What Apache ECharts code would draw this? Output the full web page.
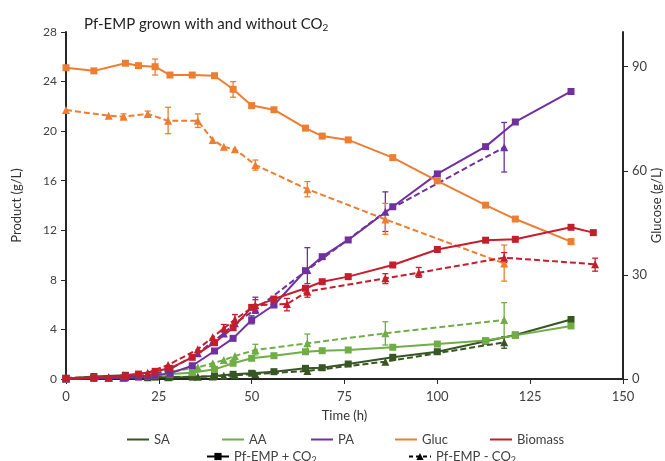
<!DOCTYPE html>
<html>
<head>
<meta charset="utf-8">
<script src="https://cdn.jsdelivr.net/npm/echarts@6/dist/echarts.min.js"></script>
<style>
html, body { margin: 0; padding: 0; background: #fff; }
#chart { width: 665px; height: 461px; }
</style>
</head>
<body>
<div id="chart"></div>
<script>
// sampling times (h)
const timePlus = [0, 7.5, 16, 19.5, 24, 28, 34, 40, 45, 50, 56, 64.5, 69, 76, 88, 100, 113, 121, 136];
const timeBioPlus = [0, 7.5, 16, 19.5, 24, 28, 34, 40, 45, 50, 56, 64.5, 69, 76, 88, 100, 113, 121, 136, 142];
const timeMinus = [0, 11.5, 15.5, 22, 27.5, 35.5, 39.5, 42.5, 45.5, 51, 65, 86, 118];
const timeBioMinus = [0, 11.5, 15.5, 22, 27.5, 35.5, 39.5, 42.5, 45.5, 51, 59.5, 65, 86, 95, 118, 142.5];

// Pf-EMP + CO2
const saPlus = [0.05, 0.2, 0.3, 0.2, 0.15, 0.15, 0.15, 0.24, 0.38, 0.46, 0.59, 0.86, 0.91, 1.21, 1.75, 2.2, 3.05, 3.55, 4.8];
const aaPlus = [0.05, 0.1, 0.15, 0.2, 0.3, 0.4, 0.51, 0.78, 1.27, 1.67, 1.88, 2.2, 2.28, 2.34, 2.56, 2.82, 3.1, 3.52, 4.28];
const paPlus = [0.05, 0.05, 0.1, 0.15, 0.3, 0.45, 1.07, 2.26, 3.28, 4.76, 5.97, 8.74, 9.87, 11.22, 13.9, 16.55, 18.75, 20.74, 23.2];
const glucPlus = [89.7, 88.8, 91.0, 90.3, 90.0, 87.6, 87.6, 87.4, 83.5, 78.8, 77.6, 72.3, 70.0, 68.9, 63.8, 57.1, 50.1, 46.1, 39.6];
const bioPlus = [0.05, 0.1, 0.25, 0.4, 0.62, 0.86, 1.75, 2.93, 4.14, 5.78, 6.45, 7.32, 7.85, 8.26, 9.2, 10.45, 11.2, 11.27, 12.24, 11.81];

// Pf-EMP - CO2
const saMinus = [0.05, 0.1, 0.1, 0.15, 0.15, 0.19, 0.2, 0.27, 0.3, 0.4, 0.65, 1.4, 2.96];
const aaMinus = [0.05, 0.1, 0.15, 0.3, 0.55, 0.94, 1.27, 1.53, 1.86, 2.34, 2.88, 3.69, 4.76];
const paMinus = [0.05, 0.1, 0.15, 0.3, 0.7, 2.07, 3.0, 3.68, 4.5, 5.6, 8.8, 13.5, 18.7];
const glucMinus = [77.5, 75.9, 75.6, 76.4, 74.4, 74.4, 68.9, 66.9, 66.2, 61.7, 54.7, 46.0, 33.3];
const bioMinus = [0.1, 0.15, 0.3, 0.5, 1.13, 2.4, 3.37, 4.09, 4.8, 5.95, 6.05, 7.05, 8.12, 8.58, 9.79, 9.26];

// error bars: [time, low, high]
const glucPlusErr = [[24, 87.6, 92.2], [45, 81.2, 85.7]];
const paPlusErr = [[50, 4.45, 5.1]];
const glucMinusErr = [[15.5, 75.0, 76.4], [22, 75.8, 77.2], [27.5, 70.7, 78.3], [35.5, 72.5, 76.4], [51, 60.2, 63.1], [65, 52.5, 56.9], [86, 41.7, 50.6], [118, 28.2, 38.6]];
const paMinusErr = [[51, 5.3, 6.6], [65, 7.7, 10.6], [86, 11.9, 15.1], [118, 16.7, 20.7]];
const aaMinusErr = [[51, 1.94, 2.8], [65, 2.2, 3.63], [86, 2.74, 4.62], [118, 3.36, 6.16]];
const saMinusErr = [[118, 2.48, 3.41]];
const bioMinusErr = [[42.5, 3.8, 4.4], [45.5, 4.5, 5.2], [51, 5.5, 6.4], [59.5, 5.5, 6.5], [65, 6.6, 7.4], [86, 7.7, 8.5], [95, 8.2, 9.0], [118, 9.4, 10.2], [142.5, 8.7, 9.75]];

const glucTicks = [0, 30, 60, 90];

const FONT = 'Lato';
const C = { SA: '#375623', AA: '#70AD47', PA: '#7030A0', Gluc: '#ED7D31', Biomass: '#C41E2C' };

const zip = (xs, ys) => xs.map((x, i) => [x, ys[i]]);

function line(name, color, times, vals, dashed, axis) {
  return {
    name: name, type: 'line', yAxisIndex: axis || 0,
    data: zip(times, vals),
    symbol: dashed ? 'triangle' : 'rect',
    symbolSize: dashed ? 8 : 7,
    lineStyle: { color: color, width: 2, type: dashed ? [6, 3] : 'solid' },
    itemStyle: { color: color },
    z: 3
  };
}

function errRender(params, api) {
  const lo = api.coord([api.value(0), api.value(1)]);
  const hi = api.coord([api.value(0), api.value(2)]);
  const st = { stroke: api.visual('color'), lineWidth: 1.3 };
  const w = 3;
  return {
    type: 'group', children: [
      { type: 'line', shape: { x1: lo[0], y1: lo[1], x2: hi[0], y2: hi[1] }, style: st },
      { type: 'line', shape: { x1: lo[0] - w, y1: lo[1], x2: lo[0] + w, y2: lo[1] }, style: st },
      { type: 'line', shape: { x1: hi[0] - w, y1: hi[1], x2: hi[0] + w, y2: hi[1] }, style: st }
    ]
  };
}

function err(name, color, data, axis) {
  return {
    name: name, type: 'custom', yAxisIndex: axis || 0,
    renderItem: errRender, data: data,
    encode: { x: 0, y: [1, 2] },
    itemStyle: { color: color, opacity: 0.85 },
    z: 2
  };
}

// legend-only series
function key(name, color, symbol, dashed) {
  return {
    name: name, type: 'line', data: [],
    symbol: symbol || 'none', symbolSize: 8,
    lineStyle: { color: color, width: 2, type: dashed ? [4, 3] : 'solid' },
    itemStyle: { color: color }
  };
}

const legendText = { fontFamily: FONT, fontSize: 13, color: '#404040',
  rich: { a: { fontFamily: FONT, fontSize: 13, color: '#404040' },
          s: { fontFamily: FONT, fontSize: 9, color: '#404040', padding: [8, 0, 0, 0] } } };

function legendAt(name, left, top, plain) {
  const lg = {
    data: [name], left: left, top: top, padding: 0,
    itemWidth: 22, itemHeight: 9, selectedMode: false,
    textStyle: legendText,
    formatter: n => n.endsWith('CO2') ? '{a|' + n.slice(0, -1) + '}{s|2}' : n
  };
  if (plain) { lg.icon = 'rect'; lg.itemHeight = 2; }
  return lg;
}

const chart = echarts.init(document.getElementById('chart'));
chart.setOption({
  animation: false,
  title: {
    text: '{a|Pf-EMP grown with and without CO}{s|2}',
    left: 79, top: 10,
    textStyle: {
      rich: {
        a: { fontFamily: FONT, fontSize: 15, fontWeight: 'normal', color: '#222' },
        s: { fontFamily: FONT, fontSize: 10, fontWeight: 'normal', color: '#222', padding: [8, 0, 0, 0] }
      }
    }
  },
  grid: { left: 66, right: 42, top: 32, bottom: 82, containLabel: false, outerBoundsMode: 'none' },
  legend: [
    legendAt('SA', 127, 433, true),
    legendAt('AA', 222, 433, true),
    legendAt('PA', 311, 433, true),
    legendAt('Gluc', 395, 433, true),
    legendAt('Biomass', 490, 433, true),
    legendAt('Pf-EMP + CO2', 206, 450),
    legendAt('Pf-EMP - CO2', 408, 450)
  ],
  xAxis: {
    type: 'value', min: 0, max: 150, interval: 25,
    name: 'Time (h)', nameLocation: 'middle', nameGap: 30,
    nameTextStyle: { fontFamily: FONT, fontSize: 13, color: '#333' },
    axisLine: { lineStyle: { color: '#262626', width: 2 } },
    axisTick: { length: 5, lineStyle: { color: '#262626' } },
    axisLabel: { fontFamily: FONT, fontSize: 13, color: '#404040', margin: 11 },
    splitLine: { show: false }
  },
  yAxis: [
    {
      type: 'value', min: 0, max: 28, interval: 4,
      name: 'Product (g/L)', nameLocation: 'middle', nameGap: 43,
      nameTextStyle: { fontFamily: FONT, fontSize: 13, color: '#333' },
      axisLine: { show: true, lineStyle: { color: '#262626', width: 2 } },
      axisTick: { show: true, length: 5, lineStyle: { color: '#262626' } },
      axisLabel: { fontFamily: FONT, fontSize: 12, color: '#404040', margin: 9 },
      splitLine: { show: false }
    },
    {
      type: 'value', min: 0, max: 100, position: 'right',
      name: 'Glucose (g/L)', nameLocation: 'middle', nameGap: 27, nameMoveOverlap: false,
      nameTextStyle: { fontFamily: FONT, fontSize: 13, color: '#333' },
      axisLine: { show: true, lineStyle: { color: '#262626', width: 2 } },
      axisTick: { show: true, length: 5, customValues: glucTicks, lineStyle: { color: '#262626' } },
      axisLabel: { fontFamily: FONT, fontSize: 13, color: '#404040', margin: 9, customValues: glucTicks },
      splitLine: { show: false }
    }
  ],
  series: [
    err('SA-e', C.SA, saMinusErr),
    err('AA-e', C.AA, aaMinusErr),
    err('PA-e', C.PA, paMinusErr),
    err('PA+e', C.PA, paPlusErr),
    err('Gluc-e', C.Gluc, glucMinusErr, 1),
    err('Gluc+e', C.Gluc, glucPlusErr, 1),
    err('Bio-e', C.Biomass, bioMinusErr),
    line('SA -', C.SA, timeMinus, saMinus, true),
    line('SA +', C.SA, timePlus, saPlus, false),
    line('AA -', C.AA, timeMinus, aaMinus, true),
    line('AA +', C.AA, timePlus, aaPlus, false),
    line('PA -', C.PA, timeMinus, paMinus, true),
    line('PA +', C.PA, timePlus, paPlus, false),
    line('Gluc -', C.Gluc, timeMinus, glucMinus, true, 1),
    line('Gluc +', C.Gluc, timePlus, glucPlus, false, 1),
    line('Bio -', C.Biomass, timeBioMinus, bioMinus, true),
    line('Bio +', C.Biomass, timeBioPlus, bioPlus, false),
    key('SA', C.SA), key('AA', C.AA), key('PA', C.PA), key('Gluc', C.Gluc), key('Biomass', C.Biomass),
    key('Pf-EMP + CO2', '#000', 'rect', false),
    key('Pf-EMP - CO2', '#000', 'triangle', true)
  ]
});
</script>
</body>
</html>
